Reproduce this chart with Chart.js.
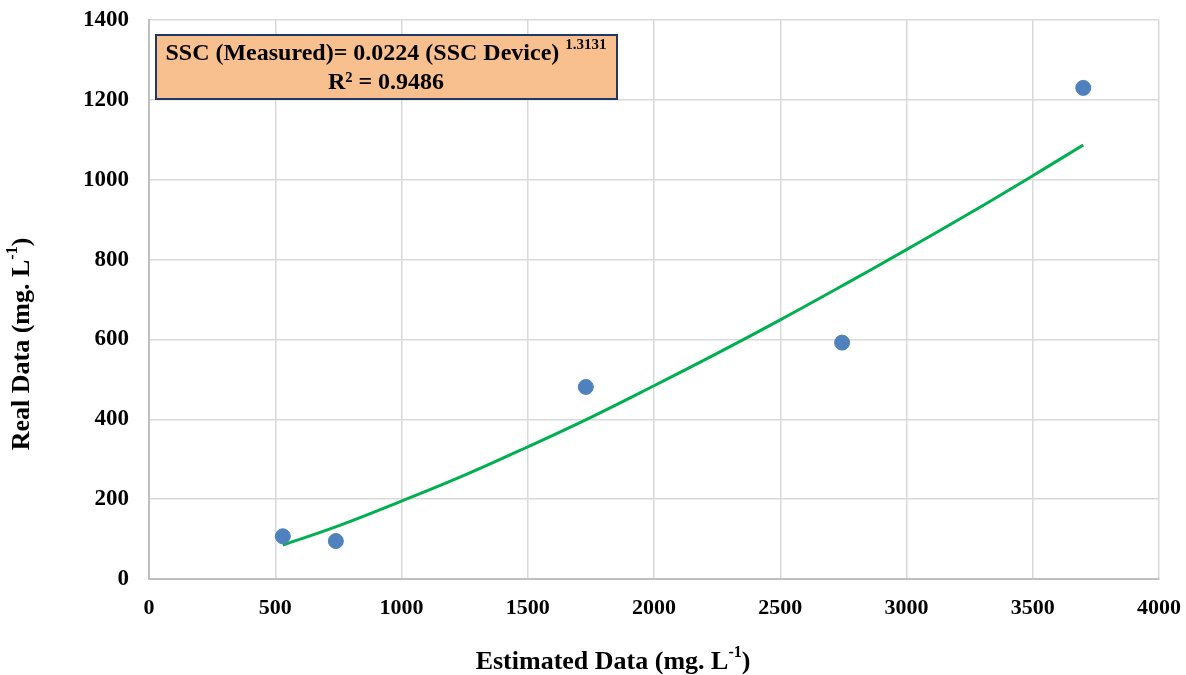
<!DOCTYPE html>
<html>
<head>
<meta charset="utf-8">
<script src="https://cdn.jsdelivr.net/npm/chart.js@4.4.0/dist/chart.umd.min.js"></script>
<style>
  html, body { margin: 0; padding: 0; background: #fff; }
  #wrap { width: 1186px; height: 675px; position: relative; }
</style>
</head>
<body>
<div id="wrap"><canvas id="chart"></canvas></div>
<script>
(function () {
    "use strict";

    // Measured points
    const estimated = [530, 740, 1730, 2745, 3700];
    const real = [107, 95, 481, 592, 1230];

    // Power trend line
    const trendX = [530, 750, 1000, 1250, 1500, 1750, 2000, 2250, 2500, 2750, 3000, 3250, 3500, 3700];
    const trendY = [85, 133, 195, 260, 331, 405, 484, 565, 649, 736, 825, 916, 1010, 1087];

    const xTicks = [0, 500, 1000, 1500, 2000, 2500, 3000, 3500, 4000];
    const yTicks = [0, 200, 400, 600, 800, 1000, 1200, 1400];

    const serif = "'Liberation Serif', 'Times New Roman', serif";

    // draws text with a superscript part, centred on x
    function drawSup(ctx, base, sup, tail, x, y, size) {
        const supSize = Math.round(size * 0.62);
        ctx.font = "bold " + size + "px " + serif;
        const w1 = ctx.measureText(base).width;
        const w3 = ctx.measureText(tail).width;
        ctx.font = "bold " + supSize + "px " + serif;
        const w2 = ctx.measureText(sup).width;
        const left = x - (w1 + w2 + w3) / 2;
        ctx.textAlign = "left";
        ctx.textBaseline = "middle";
        ctx.font = "bold " + size + "px " + serif;
        ctx.fillText(base, left, y);
        ctx.fillText(tail, left + w1 + w2, y);
        ctx.font = "bold " + supSize + "px " + serif;
        ctx.fillText(sup, left + w1, y - size * 0.35);
    }

    const overlay = {
        id: "overlay",
        afterDraw(chart) {
            const ctx = chart.ctx;
            ctx.save();
            ctx.fillStyle = "#000";

            // axis titles
            drawSup(ctx, "Estimated Data (mg. L", "-1", ")", 613, 662, 26);
            ctx.save();
            ctx.translate(22, 344);
            ctx.rotate(-Math.PI / 2);
            drawSup(ctx, "Real Data (mg. L", "-1", ")", 0, 0, 26);
            ctx.restore();

            // equation box
            ctx.fillStyle = "#f9c08f";
            ctx.fillRect(156, 35, 461, 64);
            ctx.strokeStyle = "#1f3864";
            ctx.lineWidth = 2;
            ctx.strokeRect(156, 35, 461, 64);
            ctx.fillStyle = "#000";
            ctx.textBaseline = "middle";
            ctx.textAlign = "left";
            const line1 = "SSC (Measured)= 0.0224 (SSC Device) ";
            ctx.font = "bold 24px " + serif;
            const w1 = ctx.measureText(line1).width;
            ctx.font = "bold 15px " + serif;
            const w2 = ctx.measureText("1.3131").width;
            const l = 386 - (w1 + w2) / 2;
            ctx.font = "bold 24px " + serif;
            ctx.fillText(line1, l, 54);
            ctx.font = "bold 15px " + serif;
            ctx.fillText("1.3131", l + w1, 45);
            ctx.font = "bold 24px " + serif;
            ctx.textAlign = "center";
            ctx.fillText("R\u00B2 = 0.9486", 386, 83);
            ctx.restore();
        }
    };

    const ctx = document.getElementById("chart").getContext("2d");

    new Chart(ctx, {
        type: "scatter",
        data: {
            datasets: [
                {
                    type: "line",
                    data: trendX.map((x, i) => ({ x: x, y: trendY[i] })),
                    borderColor: "#00b050",
                    borderWidth: 3,
                    pointRadius: 0,
                    tension: 0.4,
                    fill: false,
                    order: 2,
                },
                {
                    data: estimated.map((x, i) => ({ x: x, y: real[i] })),
                    backgroundColor: "#4f81bd",
                    borderColor: "#4f81bd",
                    pointRadius: 7.5,
                    order: 1,
                },
            ],
        },
        options: {
            responsive: true,
            maintainAspectRatio: false,
            animation: false,
            layout: {
                padding: { top: 20, right: 27, left: 0, bottom: 0 },
            },
            plugins: {
                legend: { display: false },
                tooltip: { enabled: false },
            },
            scales: {
                x: {
                    type: "linear",
                    min: 0,
                    max: 4000,
                    afterBuildTicks: (s) => { s.ticks = xTicks.map((v) => ({ value: v })); },
                    afterFit: (s) => {
                        s.height = 96;
                        s.paddingLeft = 0;
                        s.paddingRight = 0;
                    },
                    ticks: {
                        color: "#000",
                        padding: 16,
                        maxRotation: 0,
                        callback: (v) => String(v),
                        font: { family: serif, size: 22, weight: "bold" },
                    },
                    grid: { color: "#d9d9d9", lineWidth: 1.5, drawTicks: false },
                    border: { color: "#bfbfbf", width: 2 },
                },
                y: {
                    min: 0,
                    max: 1400,
                    afterBuildTicks: (s) => { s.ticks = yTicks.map((v) => ({ value: v })); },
                    afterFit: (s) => {
                        s.width = 149;
                        s.paddingTop = 0;
                        s.paddingBottom = 0;
                    },
                    ticks: {
                        color: "#000",
                        padding: 20,
                        callback: (v) => String(v),
                        font: { family: serif, size: 23, weight: "bold" },
                    },
                    grid: { color: "#d9d9d9", lineWidth: 1.5, drawTicks: false },
                    border: { color: "#bfbfbf", width: 2 },
                },
            },
        },
        plugins: [overlay],
    });
})();
</script>
</body>
</html>
